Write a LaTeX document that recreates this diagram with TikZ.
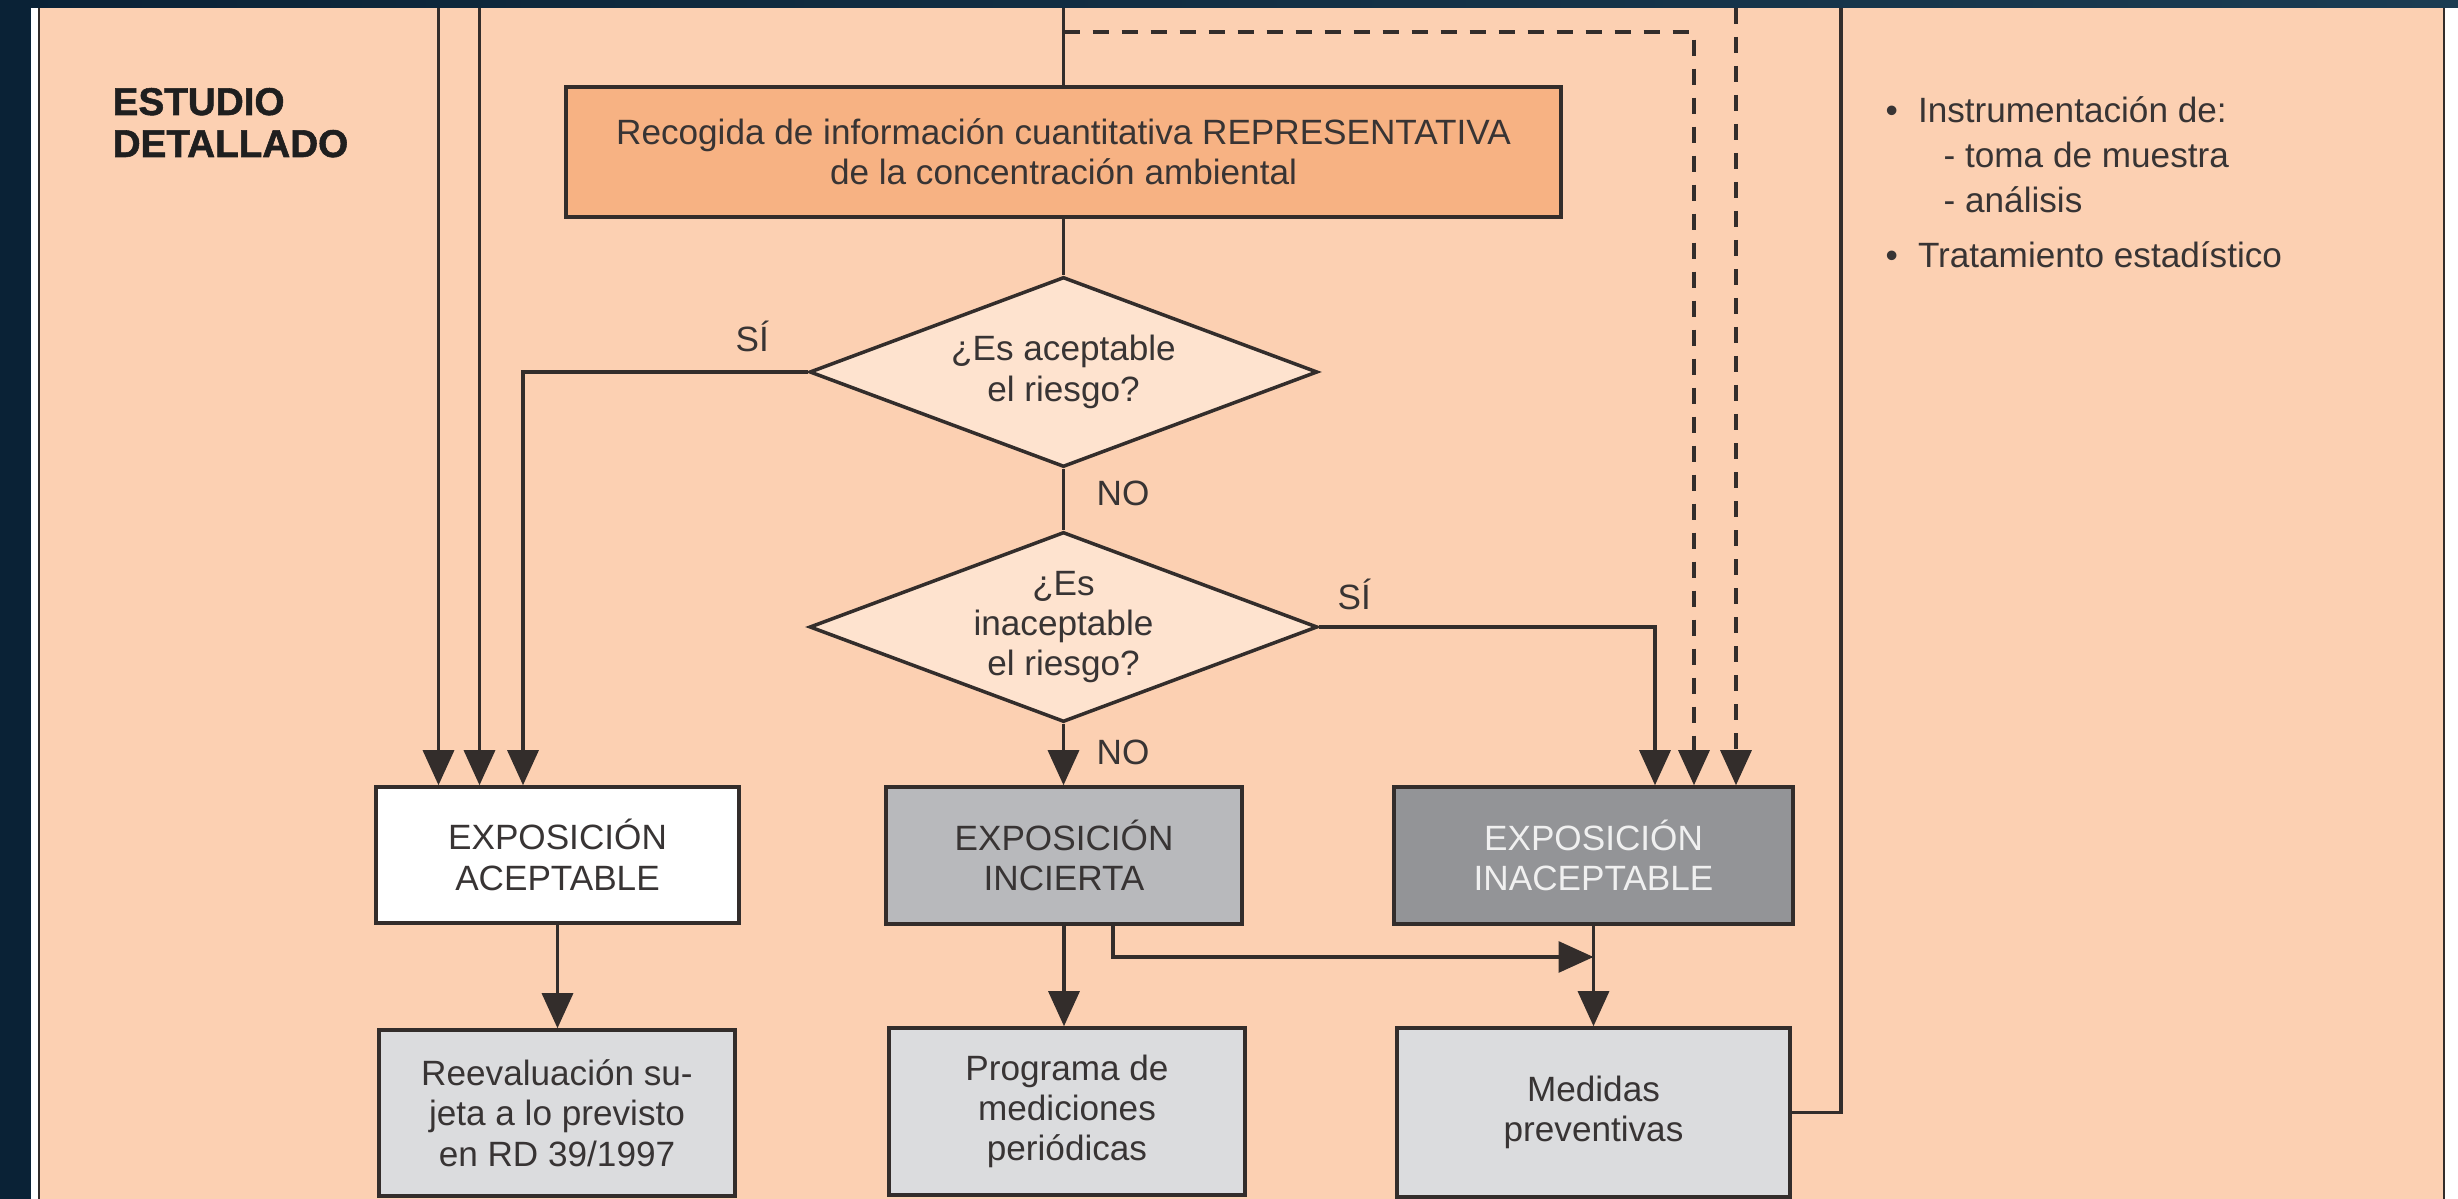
\documentclass[tikz,border=0pt]{standalone}
\usepackage{fontspec}
\setmainfont{Liberation Sans}
\newfontfamily\headfont{Liberation Sans Bold}[FakeBold=1.4]
\usetikzlibrary{shapes.geometric,arrows.meta,calc}

\definecolor{slide}{HTML}{0A2236}
\definecolor{slidelight}{HTML}{1B3C52}
\definecolor{paper}{HTML}{FCD0B2}
\definecolor{ink}{HTML}{332D2B}
\definecolor{txt}{HTML}{383434}
\definecolor{headfill}{HTML}{F7B283}
\definecolor{askfill}{HTML}{FEE3CF}
\definecolor{uncfill}{HTML}{B8B9BC}
\definecolor{badfill}{HTML}{939497}
\definecolor{actfill}{HTML}{DBDCDE}

\begin{document}
\begin{tikzpicture}[
  every node/.style={font=\fontsize{10}{11.5}\selectfont, text=txt},
  box/.style={draw=ink, line width=1pt, align=center, inner sep=0pt},
  ask/.style={draw=ink, line width=1pt, shape=diamond, aspect=2.67, inner sep=0pt,
              minimum width=5.08cm, minimum height=1.90cm, fill=askfill, align=center},
  link/.style={draw=ink, line width=0.9pt},
  arr/.style={link, -{Triangle[width=0.31cm,length=0.35cm]}},
  dash link/.style={dash pattern=on 0.16cm off 0.13cm},
  lbl/.style={inner sep=0pt, anchor=base west},
  heading/.style={inner sep=0pt, anchor=base west, text=black!88,
                  font=\headfont\fontsize{11}{13}\selectfont}
]
\useasboundingbox (0,0) rectangle (24.58,-11.99);

% slide backdrop and sheet
\fill[slide] (0,0) rectangle (24.58,-11.99);
\shade[left color=slide, right color=slidelight] (0,0) rectangle (24.58,-0.08);
\fill[white] (0.31,-0.08) rectangle (24.58,-11.99);
\fill[paper] (0.39,-0.08) rectangle (24.44,-11.99);
\draw[ink, line width=0.8pt] (0.39,-0.08) -- (0.39,-11.99) (24.44,-0.08) -- (24.44,-11.99);

% stage title
\node[heading] (stage1) at (1.12,-1.15) {ESTUDIO};
\node[heading] (stage2) at (1.12,-1.57) {DETALLADO};

% process
\node[box, fill=headfill, minimum width=9.95cm, minimum height=1.30cm] (rec) at (10.635,-1.52)
  {Recogida de información cuantitativa REPRESENTATIVA\\de la concentración ambiental};
\node[ask] (d1) at (10.635,-3.72) {¿Es aceptable\\el riesgo?};
\node[ask] (d2) at (10.635,-6.27) {¿Es\\inaceptable\\el riesgo?};

\node[box, fill=white, minimum width=3.63cm, minimum height=1.36cm] (acep) at (5.575,-8.55)
  {EXPOSICIÓN\\ACEPTABLE};
\node[box, fill=uncfill, minimum width=3.56cm, minimum height=1.37cm] (inc) at (10.64,-8.555)
  {EXPOSICIÓN\\INCIERTA};
\node[box, fill=badfill, text=white!94!black, minimum width=3.99cm, minimum height=1.37cm] (inac) at (15.935,-8.555)
  {EXPOSICIÓN\\INACEPTABLE};

\node[box, fill=actfill, minimum width=3.56cm, minimum height=1.66cm] (reev) at (5.57,-11.13)
  {Reevaluación su-\\jeta a lo previsto\\en RD 39/1997};
\node[box, fill=actfill, minimum width=3.56cm, minimum height=1.67cm] (prog) at (10.67,-11.115)
  {Programa de\\mediciones\\periódicas};
\node[box, fill=actfill, minimum width=3.93cm, minimum height=1.69cm] (med) at (15.935,-11.125)
  {Medidas\\preventivas};

% notes
\node[lbl] (n1) at (18.85,-1.23) {\textbullet\hspace{0.2cm}Instrumentación de:};
\node[lbl] (n2) at (19.43,-1.68) {- toma de muestra};
\node[lbl] (n3) at (19.43,-2.13) {- análisis};
\node[lbl] (n4) at (18.85,-2.68) {\textbullet\hspace{0.2cm}Tratamiento estadístico};

% branch labels
\node[lbl] (si1) at (7.35,-3.52) {SÍ};
\node[lbl] (no1) at (10.96,-5.06) {NO};
\node[lbl] (si2) at (13.37,-6.10) {SÍ};
\node[lbl] (no2) at (10.96,-7.65) {NO};

% free ends at the upper edge
\coordinate (ta) at (4.385,-0.08);
\coordinate (tb) at (4.795,-0.08);
\coordinate (tc) at (rec.north |- 0,-0.08);
\coordinate (dj) at (rec.north |- 0,-0.32);
\coordinate (td) at (17.36,-0.08);
\coordinate (te) at (18.41,-0.08);
\coordinate (jn) at (inac.south |- 0,-9.57);

% connectors
\draw[arr] (ta) -- (ta |- acep.north);
\draw[arr] (tb) -- (tb |- acep.north);
\draw[arr] (d1.west) -| ([xshift=-0.345cm]acep.north);

\draw[link] (tc) -- (rec.north);
\draw[link] (rec.south) -- (d1.north);
\draw[link] (d1.south) -- (d2.north);
\draw[arr] (d2.south) -- (d2.south |- inc.north);

\draw[arr] (d2.east) -| ([xshift=0.615cm]inac.north);
\draw[arr, dash link] (dj) -| ([xshift=1.005cm]inac.north);
\draw[arr, dash link] (td) -- (td |- inac.north);

\draw[arr] (acep.south) -- (acep.south |- reev.north);
\draw[arr] (inc.south) -- (inc.south |- prog.north);
\draw[arr] ([xshift=0.49cm]inc.south) |- (jn);
\draw[arr] (inac.south) -- (med.north);
\draw[link] (med.east) -| (te);
\end{tikzpicture}
\end{document}
